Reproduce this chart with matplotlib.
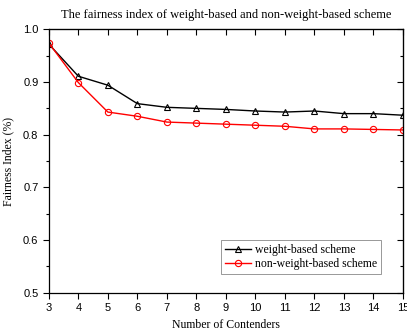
import matplotlib
matplotlib.use('Agg')
import matplotlib.pyplot as plt
from matplotlib.ticker import MultipleLocator

# data
contenders = [3, 4, 5, 6, 7, 8, 9, 10, 11, 12, 13, 14, 15]
weight_based = [0.972, 0.911, 0.894, 0.859, 0.852, 0.850, 0.848, 0.845, 0.843, 0.845, 0.840, 0.840, 0.837]
non_weight_based = [0.974, 0.899, 0.843, 0.835, 0.824, 0.822, 0.820, 0.818, 0.816, 0.811, 0.811, 0.810, 0.809]

serif = 'Liberation Serif'
sans = 'Liberation Sans'

fig = plt.figure(figsize=(4.07, 3.30), dpi=100)
ax = fig.add_axes([0.120, 0.113, 0.870, 0.798])

ax.plot(contenders, weight_based, color='black', lw=1.0, marker='^',
        ms=5, mfc='none', mec='black', mew=0.8, label='weight-based scheme')
ax.plot(contenders, non_weight_based, color='red', lw=1.0, marker='o',
        ms=4.5, mfc='none', mec='red', mew=0.8, label='non-weight-based scheme')

ax.set_xlim(3, 15)
ax.set_ylim(0.5, 1.0)
ax.xaxis.set_major_locator(MultipleLocator(1))
ax.yaxis.set_major_locator(MultipleLocator(0.1))
ax.yaxis.set_minor_locator(MultipleLocator(0.05))
ax.tick_params(axis='both', which='both', direction='out', labelsize=8,
               top=False, right=False)
ax.tick_params(which='major', length=4, width=0.8)
ax.tick_params(which='minor', length=2.5, width=0.8)
for lab in ax.get_xticklabels() + ax.get_yticklabels():
    lab.set_family(sans)

# inward ticks on the top and right spines
sec_x = ax.secondary_xaxis('top')
sec_x.xaxis.set_major_locator(MultipleLocator(1))
sec_x.tick_params(direction='in', length=4, width=0.8, labeltop=False)
sec_y = ax.secondary_yaxis('right')
sec_y.yaxis.set_major_locator(MultipleLocator(0.1))
sec_y.yaxis.set_minor_locator(MultipleLocator(0.05))
sec_y.tick_params(which='both', direction='in', width=0.8, labelright=False)
sec_y.tick_params(which='major', length=4)
sec_y.tick_params(which='minor', length=2.5)

for s in ax.spines.values():
    s.set_linewidth(0.9)

ax.set_title('The fairness index of weight-based and non-weight-based scheme',
             fontfamily=serif, fontsize=9, pad=8)
ax.set_xlabel('Number of Contenders', fontfamily=serif, fontsize=8.5, labelpad=4)
ax.set_ylabel('Fairness Index (%)', fontfamily=serif, fontsize=8.5, labelpad=6)

leg = ax.legend(loc='lower right', bbox_to_anchor=(0.955, 0.05),
                prop={'family': serif, 'size': 8.5}, fancybox=False,
                framealpha=1, edgecolor='#888888', handlelength=2.2,
                handletextpad=0.4, borderpad=0.3, labelspacing=0.2)
leg.get_frame().set_linewidth(0.6)

fig.savefig('out.png', dpi=100)
